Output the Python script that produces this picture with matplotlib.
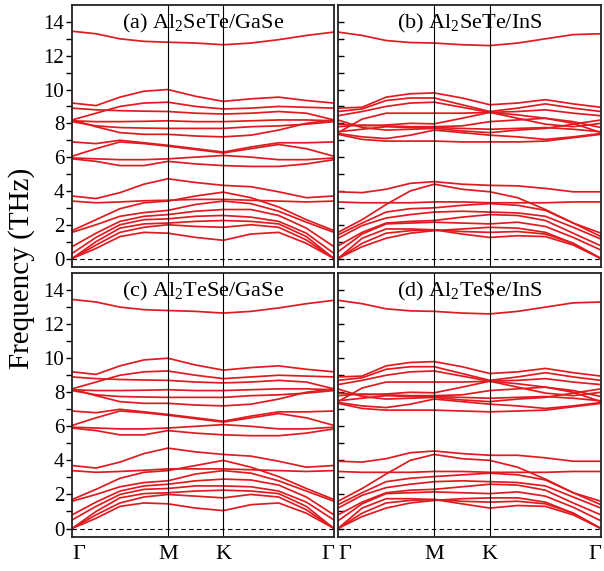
#!/usr/bin/env python3
"""Phonon dispersion of four Al2XY/MX heterostructures (2x2 panels)."""

import matplotlib
matplotlib.use("Agg")
import matplotlib.pyplot as plt

plt.rcParams["font.family"] = ["Liberation Serif", "DejaVu Serif"]
plt.rcParams["mathtext.fontset"] = "custom"
plt.rcParams["mathtext.rm"] = "Liberation Serif"
plt.rcParams["mathtext.it"] = "Liberation Serif:italic"

# k-path distance of the sampled points: G, 1/4, 1/2, 3/4, M, mid, K, 1/4, 1/2, 3/4, G
K_PATH = [0.0, 0.217, 0.433, 0.650, 0.866, 1.116, 1.366, 1.616, 1.866, 2.116, 2.366]
K_NODES = [0.0, 0.866, 1.366, 2.366]
K_LABELS = ["Γ", "M", "K", "Γ"]

TITLES = [
    "(a) Al$_2$SeTe/GaSe",
    "(b) Al$_2$SeTe/InS",
    "(c) Al$_2$TeSe/GaSe",
    "(d) Al$_2$TeSe/InS",
]

BANDS_A = [
    [0, 0.6, 1.3, 1.55, 1.5, 1.25, 1.08, 1.45, 1.55, 0.9, 0],
    [0, 0.8, 1.55, 1.85, 2.0, 1.9, 1.85, 2.0, 1.85, 1.1, 0],
    [0, 1.0, 1.8, 2.05, 2.1, 2.2, 2.25, 2.2, 2.05, 1.3, 0],
    [0.3, 1.25, 2.0, 2.3, 2.35, 2.5, 2.55, 2.45, 2.2, 1.5, 0.3],
    [0.7, 1.5, 2.2, 2.5, 2.6, 2.8, 2.9, 2.9, 2.55, 1.8, 0.7],
    [1.55, 2.0, 2.5, 2.72, 2.85, 3.2, 3.4, 3.25, 2.8, 2.15, 1.55],
    [1.65, 2.3, 2.95, 3.3, 3.4, 3.7, 3.93, 3.6, 3.05, 2.3, 1.65],
    [3.4, 3.3, 3.35, 3.42, 3.45, 3.5, 3.5, 3.45, 3.4, 3.35, 3.4],
    [3.7, 3.55, 3.9, 4.4, 4.72, 4.5, 4.33, 4.25, 3.95, 3.6, 3.7],
    [5.9, 5.75, 5.5, 5.5, 5.75, 5.6, 5.5, 5.45, 5.45, 5.6, 5.85],
    [5.95, 5.9, 5.85, 5.85, 5.9, 6.0, 6.1, 6.0, 5.85, 5.85, 5.95],
    [6.05, 6.5, 6.9, 6.8, 6.65, 6.45, 6.25, 6.5, 6.75, 6.5, 6.05],
    [6.9, 6.8, 7.0, 6.85, 6.7, 6.5, 6.3, 6.6, 6.85, 6.85, 6.9],
    [8.1, 7.85, 7.75, 7.72, 7.7, 7.7, 7.7, 7.8, 7.85, 7.95, 8.1],
    [8.2, 7.8, 7.45, 7.35, 7.35, 7.25, 7.2, 7.3, 7.6, 8.0, 8.2],
    [8.15, 8.1, 8.1, 8.12, 8.15, 8.1, 8.1, 8.15, 8.2, 8.2, 8.15],
    [8.9, 8.8, 8.75, 8.72, 8.7, 8.6, 8.55, 8.6, 8.7, 8.6, 8.2],
    [8.2, 8.6, 9.0, 9.2, 9.25, 9.0, 8.85, 8.9, 9.0, 8.95, 8.9],
    [9.2, 9.05, 9.55, 9.9, 10.0, 9.6, 9.3, 9.45, 9.55, 9.35, 9.2],
    [13.45, 13.3, 13.0, 12.85, 12.8, 12.75, 12.65, 12.75, 12.95, 13.2, 13.4],
]

BANDS_B = [
    [0, 0.7, 1.2, 1.5, 1.65, 1.75, 1.85, 1.8, 1.55, 0.9, 0],
    [0, 0.9, 1.5, 1.65, 1.7, 1.45, 1.25, 1.35, 1.3, 0.8, 0],
    [0, 1.2, 1.75, 1.75, 1.7, 1.6, 1.55, 1.6, 1.45, 0.9, 0],
    [0.4, 1.45, 2.05, 2.1, 2.15, 2.1, 2.05, 2.15, 1.9, 1.25, 0.5],
    [0.75, 1.55, 2.1, 2.2, 2.25, 2.45, 2.6, 2.55, 2.25, 1.5, 0.75],
    [1.2, 1.95, 2.4, 2.6, 2.75, 2.8, 2.75, 2.7, 2.5, 1.85, 1.15],
    [1.4, 2.1, 2.75, 2.95, 3.0, 3.15, 3.25, 3.15, 2.85, 2.1, 1.3],
    [1.55, 2.3, 3.2, 4.0, 4.4, 4.1, 3.95, 3.6, 2.9, 2.1, 1.5],
    [3.35, 3.3, 3.3, 3.3, 3.35, 3.35, 3.3, 3.3, 3.3, 3.35, 3.35],
    [3.95, 3.9, 4.1, 4.45, 4.55, 4.4, 4.33, 4.3, 4.15, 3.95, 3.95],
    [7.35, 7.05, 6.95, 6.95, 6.95, 6.9, 6.9, 6.9, 6.95, 7.15, 7.35],
    [7.4, 7.2, 7.1, 7.3, 7.6, 7.45, 7.3, 7.2, 7.05, 7.2, 7.4],
    [7.45, 8.25, 8.6, 8.6, 8.6, 8.6, 8.65, 8.5, 8.3, 8.0, 7.45],
    [7.5, 7.65, 7.8, 7.75, 7.75, 7.7, 7.65, 7.7, 7.75, 7.65, 7.5],
    [7.8, 7.9, 7.85, 7.8, 7.8, 7.85, 8.1, 8.2, 8.3, 8.1, 7.75],
    [7.95, 7.85, 7.9, 8.0, 7.97, 8.3, 8.65, 8.3, 7.95, 7.8, 8.0],
    [8.2, 7.75, 7.6, 7.65, 7.7, 7.55, 7.45, 7.6, 7.7, 7.95, 8.2],
    [8.45, 8.7, 9.0, 9.2, 9.25, 8.95, 8.65, 8.7, 8.8, 8.6, 8.45],
    [8.7, 8.85, 9.35, 9.5, 9.5, 9.1, 8.7, 8.9, 9.15, 8.9, 8.7],
    [8.9, 8.95, 9.55, 9.75, 9.8, 9.5, 9.1, 9.2, 9.4, 9.15, 8.95],
    [13.4, 13.2, 12.9, 12.78, 12.75, 12.65, 12.6, 12.75, 13.0, 13.25, 13.3],
]

BANDS_C = [
    [0, 0.6, 1.3, 1.5, 1.45, 1.2, 1.05, 1.4, 1.5, 0.9, 0],
    [0, 0.8, 1.5, 1.85, 2.0, 1.9, 1.8, 2.0, 1.85, 1.1, 0],
    [0, 1.0, 1.8, 2.05, 2.1, 2.2, 2.25, 2.2, 2.05, 1.3, 0],
    [0.5, 1.3, 2.0, 2.3, 2.35, 2.5, 2.5, 2.45, 2.2, 1.55, 0.5],
    [0.8, 1.55, 2.2, 2.5, 2.6, 2.8, 2.9, 2.85, 2.55, 1.85, 0.8],
    [1.6, 2.0, 2.45, 2.7, 2.8, 3.2, 3.4, 3.25, 2.8, 2.2, 1.6],
    [1.7, 2.3, 2.95, 3.3, 3.4, 3.7, 4.0, 3.6, 3.05, 2.35, 1.7],
    [3.4, 3.3, 3.35, 3.42, 3.5, 3.5, 3.5, 3.45, 3.4, 3.35, 3.4],
    [3.7, 3.55, 3.9, 4.4, 4.72, 4.5, 4.35, 4.25, 3.95, 3.6, 3.7],
    [5.9, 5.75, 5.5, 5.5, 5.75, 5.6, 5.5, 5.45, 5.45, 5.6, 5.85],
    [5.95, 5.9, 5.85, 5.85, 5.9, 6.0, 6.1, 6.0, 5.85, 5.85, 5.95],
    [6.05, 6.5, 6.9, 6.8, 6.65, 6.45, 6.25, 6.5, 6.75, 6.5, 6.05],
    [6.9, 6.8, 7.0, 6.85, 6.7, 6.5, 6.3, 6.6, 6.85, 6.85, 6.9],
    [8.1, 7.85, 7.75, 7.72, 7.7, 7.7, 7.7, 7.8, 7.85, 7.95, 8.1],
    [8.2, 7.8, 7.45, 7.35, 7.35, 7.25, 7.2, 7.3, 7.6, 8.0, 8.2],
    [8.15, 8.1, 8.1, 8.12, 8.15, 8.1, 8.1, 8.15, 8.2, 8.2, 8.15],
    [8.9, 8.8, 8.75, 8.72, 8.7, 8.6, 8.55, 8.6, 8.7, 8.6, 8.2],
    [8.2, 8.6, 9.0, 9.2, 9.25, 9.0, 8.8, 8.9, 9.0, 8.95, 8.9],
    [9.2, 9.05, 9.55, 9.9, 10.0, 9.6, 9.3, 9.45, 9.55, 9.35, 9.2],
    [13.45, 13.3, 13.0, 12.85, 12.8, 12.75, 12.65, 12.75, 12.95, 13.2, 13.4],
]

BANDS_D = [
    [0, 0.7, 1.2, 1.5, 1.65, 1.75, 1.8, 1.8, 1.55, 0.9, 0],
    [0, 0.9, 1.5, 1.65, 1.7, 1.45, 1.2, 1.35, 1.3, 0.8, 0],
    [0, 1.2, 1.75, 1.75, 1.7, 1.6, 1.55, 1.6, 1.45, 0.9, 0],
    [0.45, 1.45, 2.05, 2.1, 2.15, 2.1, 2.05, 2.15, 1.9, 1.25, 0.45],
    [0.8, 1.55, 2.1, 2.25, 2.3, 2.45, 2.6, 2.55, 2.25, 1.5, 0.8],
    [1.2, 1.95, 2.4, 2.6, 2.75, 2.8, 2.75, 2.7, 2.5, 1.85, 1.2],
    [1.4, 2.1, 2.75, 2.95, 3.05, 3.15, 3.25, 3.15, 2.85, 2.1, 1.4],
    [1.6, 2.35, 3.2, 4.0, 4.35, 4.1, 4.0, 3.6, 2.9, 2.1, 1.6],
    [3.35, 3.3, 3.3, 3.3, 3.35, 3.35, 3.3, 3.3, 3.3, 3.35, 3.35],
    [3.95, 3.9, 4.1, 4.45, 4.55, 4.4, 4.3, 4.3, 4.15, 3.95, 3.95],
    [7.35, 7.05, 6.95, 6.95, 6.95, 6.9, 6.85, 6.9, 6.95, 7.15, 7.35],
    [7.4, 7.2, 7.1, 7.3, 7.6, 7.45, 7.3, 7.2, 7.05, 7.2, 7.4],
    [7.45, 8.25, 8.6, 8.6, 8.6, 8.6, 8.65, 8.5, 8.3, 8.0, 7.45],
    [7.5, 7.65, 7.8, 7.75, 7.75, 7.7, 7.65, 7.7, 7.75, 7.65, 7.5],
    [7.8, 7.9, 7.85, 7.8, 7.8, 7.85, 8.1, 8.2, 8.3, 8.1, 7.75],
    [7.95, 7.85, 7.9, 8.0, 7.97, 8.3, 8.65, 8.3, 7.95, 7.8, 8.0],
    [8.2, 7.75, 7.6, 7.65, 7.7, 7.55, 7.45, 7.6, 7.7, 7.95, 8.2],
    [8.45, 8.7, 9.0, 9.2, 9.25, 8.95, 8.65, 8.7, 8.8, 8.6, 8.45],
    [8.7, 8.85, 9.35, 9.5, 9.5, 9.1, 8.7, 8.9, 9.15, 8.9, 8.7],
    [8.9, 8.95, 9.55, 9.75, 9.8, 9.5, 9.1, 9.2, 9.4, 9.15, 8.95],
    [13.4, 13.2, 12.9, 12.78, 12.75, 12.65, 12.6, 12.75, 13.0, 13.25, 13.3],
]

BAND_COLOR = "#e01a1f"

# axes rectangles in figure fraction: left, bottom, width, height
AXES_RECTS = [
    (0.1192, 0.5324, 0.4338, 0.4588),
    (0.5596, 0.5324, 0.4354, 0.4588),
    (0.1192, 0.0595, 0.4338, 0.4623),
    (0.5596, 0.0595, 0.4354, 0.4623),
]


def draw_panel(ax, bands, title, left, bottom):
    for band in bands:
        ax.plot(K_PATH, band, color=BAND_COLOR, linewidth=1.25, solid_joinstyle="round")
    for node in K_NODES[1:-1]:
        ax.axvline(node, color="black", linewidth=0.8)
    ax.axhline(0, color="black", linewidth=0.8, linestyle=(0, (4, 3)))

    ax.set_xlim(K_NODES[0], K_NODES[-1])
    ax.set_ylim(-0.5, 15)
    ax.set_yticks(range(0, 15, 2))
    ax.set_yticks(range(1, 15, 2), minor=True)
    for spine in ax.spines.values():
        spine.set_linewidth(1.3)
        spine.set_color("#222222")

    if left:
        ax.tick_params(axis="y", which="both", direction="out", length=4,
                       width=1, labelsize=15, pad=1.5)
    else:
        ax.tick_params(axis="y", which="both", direction="in", length=4,
                       width=1, labelleft=False)

    ax.set_xticks(K_NODES)
    if bottom:
        ax.set_xticklabels(K_LABELS, fontsize=16)
        ax.tick_params(axis="x", length=0, pad=6)
        labels = ax.get_xticklabels()
        labels[0].set_ha("left")
        labels[-1].set_ha("right")
    else:
        ax.tick_params(axis="x", length=0, labelbottom=False)

    ax.text(0.5, 0.975, title, transform=ax.transAxes, ha="center", va="top",
            fontsize=16)


def main():
    fig = plt.figure(figsize=(6.04, 5.71), dpi=100)
    panels = [BANDS_A, BANDS_B, BANDS_C, BANDS_D]
    for i, (bands, title, rect) in enumerate(zip(panels, TITLES, AXES_RECTS)):
        ax = fig.add_axes(rect)
        draw_panel(ax, bands, title, left=(i % 2 == 0), bottom=(i >= 2))

    fig.text(0.036, 0.53, "Frequency (THz)", rotation=90, ha="center",
             va="center", fontsize=21)
    fig.savefig("out.png", dpi=100)


if __name__ == "__main__":
    main()
